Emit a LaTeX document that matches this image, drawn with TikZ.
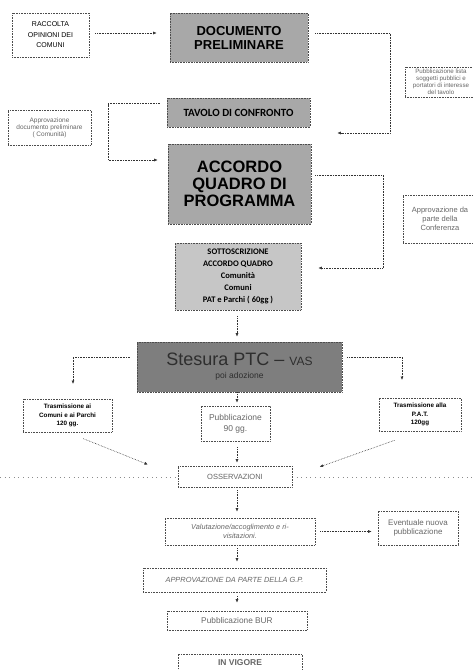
\documentclass[tikz,border=0pt]{standalone}
\usepackage{fontspec}
\setmainfont{Liberation Sans}
\newfontfamily\carl{Carlito}
\usetikzlibrary{arrows.meta,calc}
\definecolor{fillA}{HTML}{A8A8A8}
\definecolor{fillB}{HTML}{C6C6C6}
\definecolor{fillC}{HTML}{7E7E7E}
\definecolor{faint}{HTML}{666666}
\tikzset{
  box/.style={draw=black!70, densely dotted, line width=0.6pt, inner sep=0pt, align=center, text=black},
  graybox/.style={box, fill=fillA},
  note/.style={box, text=faint},
  conn/.style={draw=black!80, densely dotted, line width=0.6pt, -{Latex[length=3.5pt,width=3pt]}},
}
\begin{document}
\begin{tikzpicture}[x=1pt,y=-1pt]
\useasboundingbox (0,0) rectangle (472,670);
% horizontal dotted line
\draw[black!45, loosely dotted, line width=0.6pt] (0,477) -- (178,477);
\draw[black!45, loosely dotted, line width=0.6pt] (292,477) -- (472,477);

% nodes
\node[box, minimum width=77pt, minimum height=44pt, font=\fontsize{7}{10.5}\selectfont] (raccolta) at (50.5,35) {RACCOLTA\\OPINIONI DEI\\COMUNI};
\node[graybox, minimum width=138pt, minimum height=49pt, font=\fontsize{13}{14}\selectfont\bfseries] (doc) at (239,37.5) {DOCUMENTO\\PRELIMINARE};
\node[note, minimum width=72pt, minimum height=30pt, font=\fontsize{6.2}{6.9}\selectfont] (nota1) at (441,82) {Pubblicazione lista\\soggetti pubblici e\\portatori di interesse\\del tavolo};
\node[graybox, minimum width=143pt, minimum height=29pt, font=\carl\fontsize{11}{12}\selectfont\bfseries] (tavolo) at (238.5,112.5) {TAVOLO DI CONFRONTO};
\node[note, minimum width=83pt, minimum height=35pt, font=\fontsize{6.5}{7}\selectfont] (nota2) at (49.5,127.5) {Approvazione\\documento preliminare\\( Comunità)};
\node[graybox, minimum width=143pt, minimum height=80pt, font=\fontsize{16.5}{17}\selectfont\bfseries] (accordo) at (239.5,184) {ACCORDO\\QUADRO DI\\PROGRAMMA};
\node[note, minimum width=74pt, minimum height=48pt, font=\fontsize{7.5}{9}\selectfont] (nota3) at (440,219) {Approvazione da\\parte della\\Conferenza};
\node[box, fill=fillB, minimum width=126pt, minimum height=67pt, font=\carl\fontsize{8.5}{11.8}\selectfont\bfseries] (sotto) at (238,276.5) {SOTTOSCRIZIONE\\ACCORDO QUADRO\\Comunità\\Comuni\\PAT e Parchi ( 60gg )};
\node[box, fill=fillC, minimum width=205pt, minimum height=50pt, text=black!82] (stesura) at (239.5,367) {{\fontsize{18}{20}\selectfont Stesura PTC -- {\fontsize{12}{12}\selectfont VAS}}\\[1pt]{\fontsize{8.5}{10}\selectfont poi adozione}};
\node[box, minimum width=89pt, minimum height=33pt, font=\fontsize{6.3}{8.7}\selectfont\bfseries] (trasmL) at (67.5,415.5) {Trasmissione ai\\Comuni e ai Parchi\\120 gg.};
\node[note, minimum width=69pt, minimum height=35pt, font=\fontsize{8.5}{11}\selectfont] (pubbl) at (235.5,423.5) {Pubblicazione\\90 gg.};
\node[box, minimum width=82pt, minimum height=33pt, font=\fontsize{6.3}{8.7}\selectfont\bfseries] (trasmR) at (420,414.5) {Trasmissione alla\\P.A.T.\\120gg};
\node[note, fill=white, minimum width=114pt, minimum height=21pt, font=\fontsize{7.5}{9}\selectfont] (oss) at (235,476.5) {OSSERVAZIONI};
\node[note, minimum width=150pt, minimum height=27pt, font=\fontsize{7.3}{9.3}\selectfont\itshape] (valut) at (240,531.5) {Valutazione/accoglimento e ri-\\visitazioni.};
\node[note, minimum width=80pt, minimum height=34pt, font=\fontsize{8}{9.3}\selectfont] (event) at (418,528) {Eventuale nuova\\pubblicazione};
\node[note, minimum width=183pt, minimum height=24pt, font=\fontsize{7.4}{9}\selectfont\itshape] (appgp) at (234.5,580) {APPROVAZIONE DA PARTE DELLA G.P.};
\node[note, minimum width=140pt, minimum height=19pt, font=\fontsize{8.3}{9}\selectfont] (bur) at (237,620.5) {Pubblicazione BUR};
\node[note, minimum width=124pt, minimum height=26pt, font=\fontsize{8.5}{9}\selectfont\bfseries, text depth=8pt] (vigore) at (240,667) {IN VIGORE};

% bend coordinates
\coordinate (r1) at (390,133);
\coordinate (l1) at (108,160);
\coordinate (r2) at (383,268);
\coordinate (l2) at (73,384);
\coordinate (r3) at (402,380);

% connectors
\draw[conn] ([xshift=6pt,yshift=2pt]raccolta.east) -- ([xshift=-13pt]doc.west |- 0,33);
\draw[conn] ([xshift=7pt,yshift=4.5pt]doc.east) -| (r1) -- ([xshift=27pt]tavolo.east |- r1);
\draw[conn] ([xshift=-7pt,yshift=9pt]tavolo.west) -| (l1) -- ([xshift=-10pt]accordo.west |- l1);
\draw[conn] ([xshift=4pt,yshift=9pt]accordo.east) -| (r2) -- ([xshift=17pt]sotto.east |- r2);
\draw[conn] ([yshift=-6pt]sotto.south -| 237,0) -- ([yshift=5pt]stesura.north -| 237,0);
\draw[conn] ([xshift=-7pt,yshift=10pt]stesura.west) -| (l2);
\draw[conn] ([xshift=5pt,yshift=10pt]stesura.east) -| (r3);
\draw[conn] (stesura.south -| 237,0) -- ([yshift=3pt]pubbl.north -| 237,0);
\draw[conn, shorten <=17pt, shorten >=32pt] (trasmL.south) -- (oss.west);
\draw[conn, shorten <=27pt, shorten >=29pt] (trasmR.south) -- (oss.east);
\draw[conn, shorten <=6pt, shorten >=3pt] (pubbl.south -| 237,0) -- (oss.north -| 237,0);
\draw[conn, shorten <=3pt, shorten >=6pt] (oss.south -| 237,0) -- (valut.north -| 237,0);
\draw[conn, shorten <=5pt, shorten >=6pt] (valut.east) -- (valut.east -| event.west);
\draw[conn, shorten <=3pt, shorten >=6pt] (valut.south -| 237,0) -- (appgp.north -| 237,0);
\draw[conn, shorten <=4pt, shorten >=8pt] (appgp.south -| 237,0) -- (bur.north -| 237,0);
\end{tikzpicture}
\end{document}
